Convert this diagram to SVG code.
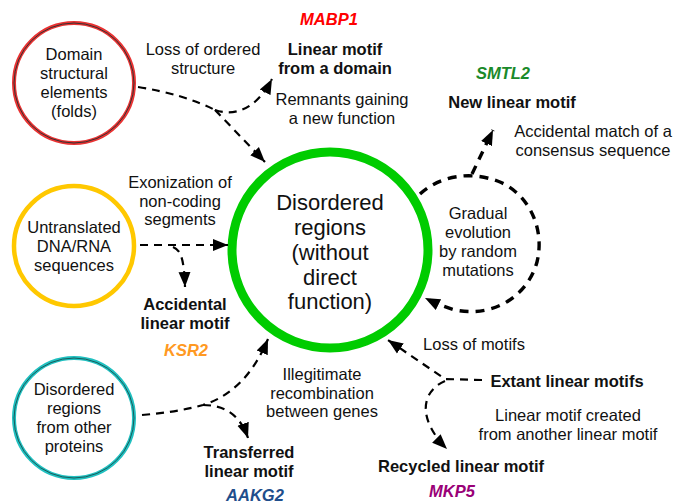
<svg xmlns="http://www.w3.org/2000/svg" width="673" height="504" viewBox="0 0 673 504">
<style>
text{font-family:"Liberation Sans",Arial,sans-serif;font-size:16.5px;fill:#111;text-anchor:middle}
.b{font-weight:bold}
.g{font-weight:bold;font-style:italic}
.big{font-size:22px}
.con path{fill:none;stroke:#000;stroke-width:2.2;stroke-dasharray:8 6}
.con path.loop{stroke-width:3.4;stroke-dasharray:9 7}
</style>
<defs>
<marker id="ah" markerWidth="16" markerHeight="14" refX="15" refY="7" orient="auto" markerUnits="userSpaceOnUse"><path d="M0,1 L15,7 L0,13 z" fill="#000"/></marker>
</defs>
<g id="center">
<circle cx="330" cy="250" r="98" fill="#fff" stroke="#00cc00" stroke-width="9"/>
<text class="big" x="330" y="210">Disordered</text>
<text class="big" x="330" y="235">regions</text>
<text class="big" x="330" y="260">(without</text>
<text class="big" x="330" y="285">direct</text>
<text class="big" x="330" y="309">function)</text>
</g>
<g id="domain">
<circle cx="74" cy="83" r="60" fill="#fff" stroke="#e83232" stroke-width="4"/>
<circle cx="74" cy="83" r="60" fill="none" stroke="#333" stroke-width="1"/>
<text x="74" y="60">Domain</text>
<text x="74" y="79">structural</text>
<text x="74" y="98">elements</text>
<text x="74" y="117">(folds)</text>
</g>
<g id="untranslated">
<circle cx="74" cy="246" r="60" fill="#fff" stroke="#ffc800" stroke-width="4.5"/>
<text x="74" y="233">Untranslated</text>
<text x="74" y="252">DNA/RNA</text>
<text x="74" y="271">sequences</text>
</g>
<g id="other">
<circle cx="74" cy="418" r="60" fill="#fff" stroke="#20c0c0" stroke-width="4"/>
<circle cx="74" cy="418" r="60" fill="none" stroke="#1a5a5a" stroke-width="1"/>
<text x="74" y="395">Disordered</text>
<text x="74" y="414">regions</text>
<text x="74" y="433">from other</text>
<text x="74" y="452">proteins</text>
</g>
<g class="con" id="connectors">
<path d="M138,87 C170,92 195,100 215,110"/>
<path d="M215,110 L265,162" marker-end="url(#ah)"/>
<path d="M215,110 C232,116 255,112 272,79" marker-end="url(#ah)"/>
<path d="M140,245 L228,245" marker-end="url(#ah)"/>
<path d="M173,247 C180,250 184,256 185,287" marker-end="url(#ah)"/>
<path d="M142,415 C165,413 185,410 203,405 C235,395 255,370 268,339" marker-end="url(#ah)"/>
<path d="M203,405 C225,405 240,415 248,438" marker-end="url(#ah)"/>
<path d="M482,380 L445,379 L388,340" marker-end="url(#ah)"/>
<path d="M445,381 C420,392 418,420 447,449" marker-end="url(#ah)"/>
<path class="loop" d="M420,194 C440,176 470,170 500,182 C530,195 545,230 537,262 C528,295 495,318 455,310 C445,307 435,303 425,298" marker-end="url(#ah)"/>
<path class="loop" d="M472,174 L493,130" marker-end="url(#ah)"/>
</g>
<g id="labels">
<text class="g" x="329" y="25" style="fill:#ff0000">MABP1</text>
<text class="b" x="335" y="55">Linear motif</text>
<text class="b" x="335" y="74">from a domain</text>
<text x="203" y="55">Loss of ordered</text>
<text x="203" y="74">structure</text>
<text x="342" y="105">Remnants gaining</text>
<text x="342" y="124">a new function</text>
<text class="g" x="503" y="79" style="fill:#1a8a2a">SMTL2</text>
<text class="b" x="512" y="108">New linear motif</text>
<text x="593" y="137">Accidental match of a</text>
<text x="593" y="156">consensus sequence</text>
<text x="180" y="188">Exonization of</text>
<text x="180" y="207">non-coding</text>
<text x="180" y="225">segments</text>
<text class="b" x="185" y="310">Accidental</text>
<text class="b" x="185" y="329">linear motif</text>
<text class="g" x="186" y="356" style="fill:#ff9922">KSR2</text>
<text x="478" y="219">Gradual</text>
<text x="478" y="238">evolution</text>
<text x="478" y="257">by random</text>
<text x="478" y="276">mutations</text>
<text x="474" y="350">Loss of motifs</text>
<text class="b" x="567" y="387">Extant linear motifs</text>
<text x="568" y="421">Linear motif created</text>
<text x="568" y="440">from another linear motif</text>
<text x="322" y="380">Illegitimate</text>
<text x="322" y="399">recombination</text>
<text x="322" y="417">between genes</text>
<text class="b" x="249" y="458">Transferred</text>
<text class="b" x="249" y="477">linear motif</text>
<text class="b" x="461" y="472">Recycled linear motif</text>
<text class="g" x="452" y="497" style="fill:#990077">MKP5</text>
<text class="g" x="255" y="501" style="fill:#1f4e8c">AAKG2</text>
</g>
</svg>
